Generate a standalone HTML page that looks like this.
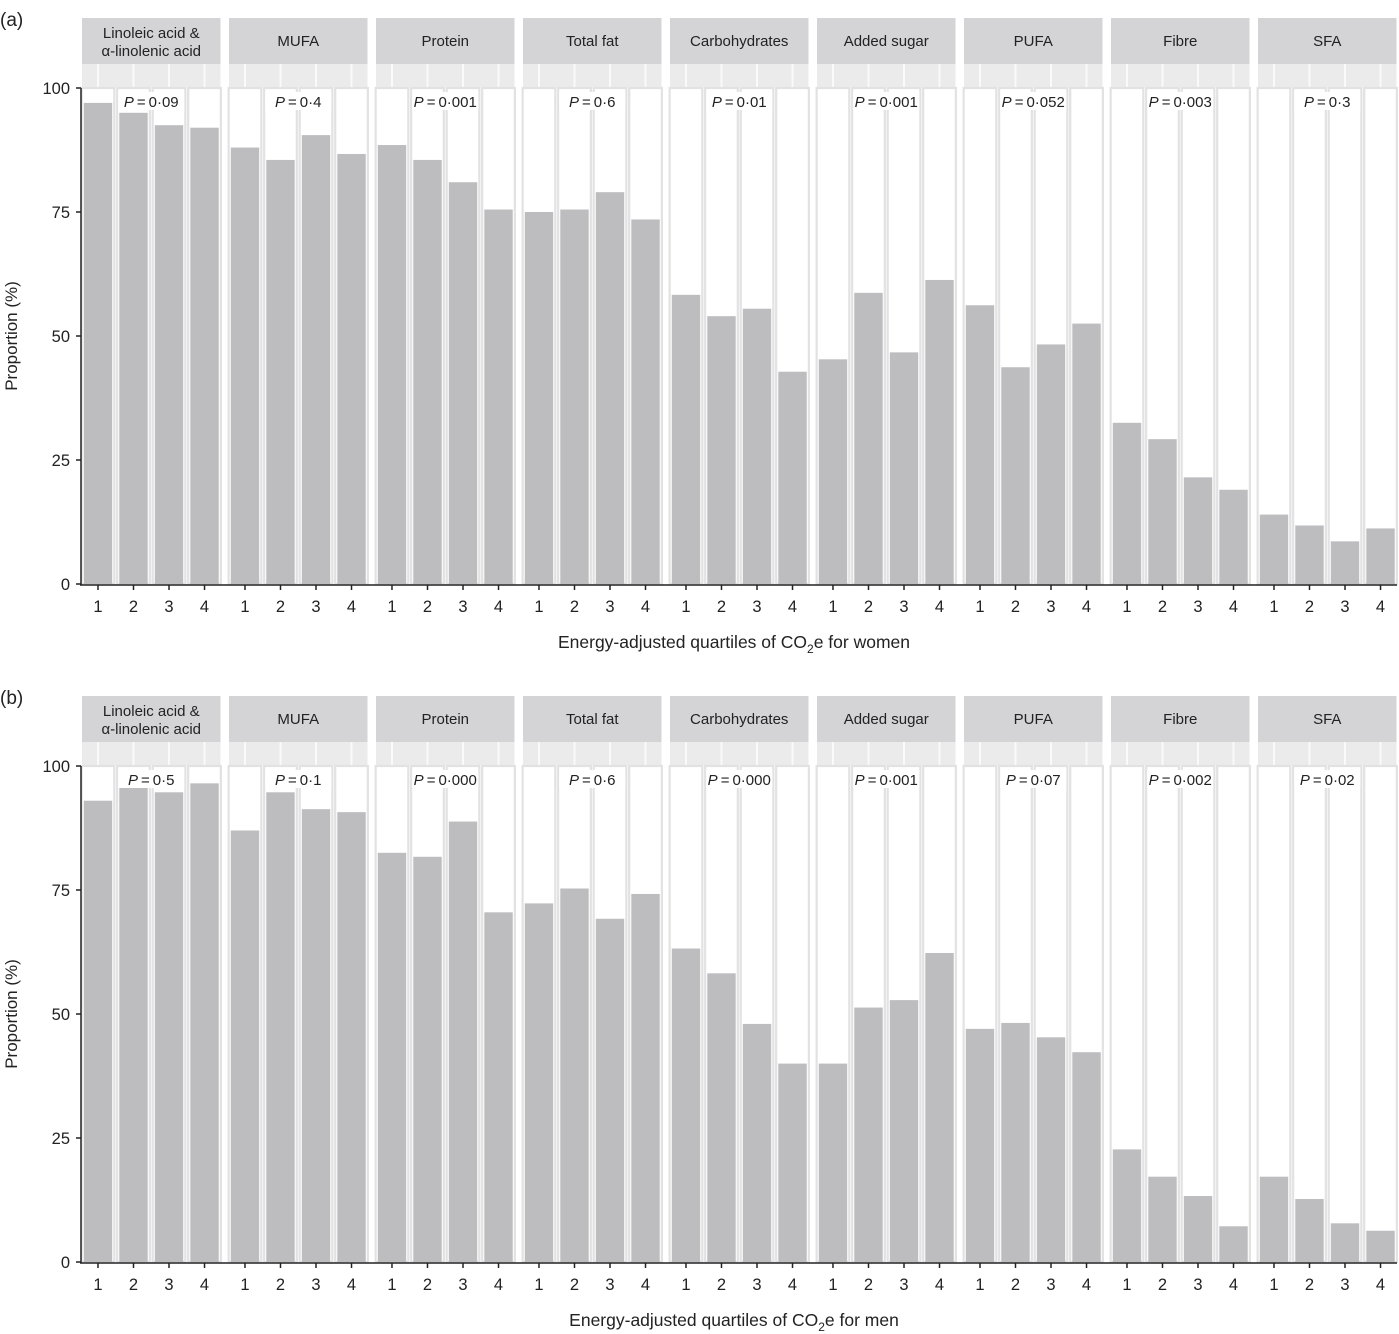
<!DOCTYPE html>
<html><head><meta charset="utf-8"><style>
html,body{margin:0;padding:0;background:#fff;}
svg{display:block;font-family:"Liberation Sans",Arial,sans-serif;}
</style></head><body>
<svg id="chart" width="1399" height="1334" viewBox="0 0 1399 1334"></svg>
<script>
const facets = ["Linoleic acid &|α-linolenic acid","MUFA","Protein","Total fat","Carbohydrates","Added sugar","PUFA","Fibre","SFA"];
const quartiles = ["1","2","3","4"];
const yTicks = [0,25,50,75,100];
const womenValues = [
 [97,95,92.5,92],[88,85.5,90.5,86.7],[88.5,85.5,81,75.5],[75,75.5,79,73.5],
 [58.3,54,55.5,42.8],[45.3,58.7,46.7,61.3],[56.2,43.7,48.3,52.5],[32.5,29.2,21.5,19],[14,11.8,8.6,11.2]];
const menValues = [
 [93,95.8,94.7,96.5],[87,94.7,91.3,90.7],[82.5,81.7,88.8,70.5],[72.3,75.3,69.2,74.2],
 [63.2,58.2,48,40],[40,51.3,52.8,62.3],[47,48.2,45.3,42.3],[22.7,17.2,13.3,7.2],[17.2,12.7,7.8,6.3]];
const womenP = ["0·09","0·4","0·001","0·6","0·01","0·001","0·052","0·003","0·3"];
const menP = ["0·5","0·1","0·000","0·6","0·000","0·001","0·07","0·002","0·02"];

const NS="http://www.w3.org/2000/svg";
const svg=document.getElementById('chart');
function el(tag,attrs,parent){const e=document.createElementNS(NS,tag);for(const k in attrs)e.setAttribute(k,attrs[k]);(parent||svg).appendChild(e);return e;}

const facetX0=82, facetW=138.5, facetGap=8.5;
function facetLeft(i){return facetX0+i*(facetW+facetGap);}
const unit=facetW/3.9;
function xPos(i,q){return facetLeft(i)+(0.45+q)*unit;}

function panel(top,label,values,pvals,sex,tag){
  const g=el('g',{});
  
  
  const y0=top+566, y100=top+70;
  const yS=v=>y0-(v/100)*(y0-y100);
  const t=el('text',{x:0,y:top+8,'font-size':19,fill:'#222'},g);t.textContent=label;
  
  for(let i=0;i<facets.length;i++){
    const fl=facetLeft(i);
    const s=el('rect',{x:fl,y:top,width:facetW,height:46,fill:'#d4d4d6'},g);
    
    el('rect',{x:fl,y:top+46,width:facetW,height:23,fill:'#ebebeb'},g);
    const lines=facets[i].split('|');
    lines.forEach((ln,k)=>{const tx=el('text',{x:fl+facetW/2,y:top+(lines.length==1?28:20+k*18),'font-size':15,'text-anchor':'middle',fill:'#222'},g);tx.textContent=ln;
      });
    for(let q=0;q<4;q++){
      const cx=xPos(i,q);
      el('line',{x1:cx,x2:cx,y1:top+46,y2:top+69,stroke:'#fafafa','stroke-width':2},g);
      const bgw=0.92*unit;
      el('rect',{x:cx-bgw/2,y:yS(100),width:bgw,height:y0-yS(100),fill:'#fff',stroke:'#e2e2e2','stroke-width':2.2},g);
      const v=values[i][q], bw=0.8*unit;
      const b=el('rect',{x:cx-bw/2,y:yS(v),width:bw,height:y0-yS(v),fill:'#bdbdc0'},g);
      
      el('line',{x1:cx,x2:cx,y1:y0+1,y2:y0+6,stroke:'#222','stroke-width':1.5},g);
      const xl=el('text',{x:cx,y:y0+28,'font-size':16.5,'text-anchor':'middle',fill:'#222'},g);xl.textContent=quartiles[q];
      
    }
    const pc=(xPos(i,1)+xPos(i,2))/2;
    el('rect',{x:pc-33,y:yS(100)+4,width:66,height:18,fill:'#fff'},g);
    const pt=el('text',{x:pc,y:yS(100)+19,'font-size':15,'text-anchor':'middle',fill:'#222'},g);
    pt.innerHTML='<tspan font-style="italic">P</tspan>\u2009=\u2009'+pvals[i];
    
  }
  el('line',{x1:81,x2:81,y1:y100,y2:y0+1,stroke:'#222','stroke-width':1.5},g);
  el('line',{x1:80,x2:1397,y1:y0+1,y2:y0+1,stroke:'#222','stroke-width':1.5},g);
  yTicks.forEach(v=>{
    el('line',{x1:76,x2:81,y1:yS(v),y2:yS(v),stroke:'#222','stroke-width':1.5},g);
    const yl=el('text',{x:70,y:yS(v)+6,'font-size':16.5,'text-anchor':'end',fill:'#222'},g);yl.textContent=v;
    
  });
  const yt=el('text',{x:0,y:0,'font-size':17,'text-anchor':'middle',fill:'#222',transform:`translate(17,${(y0+y100)/2}) rotate(-90)`},g);
  yt.textContent='Proportion (%)';
  
  const xt=el('text',{x:734,y:y0+64,'font-size':17.5,'text-anchor':'middle',fill:'#222'},g);
  xt.innerHTML='Energy-adjusted quartiles of CO<tspan font-size="12" dy="5">2</tspan><tspan dy="-5">e for '+sex+'</tspan>';
  
}
panel(18,'(a)',womenValues,womenP,'women','women');
panel(696,'(b)',menValues,menP,'men','men');
</script>
</body></html>
